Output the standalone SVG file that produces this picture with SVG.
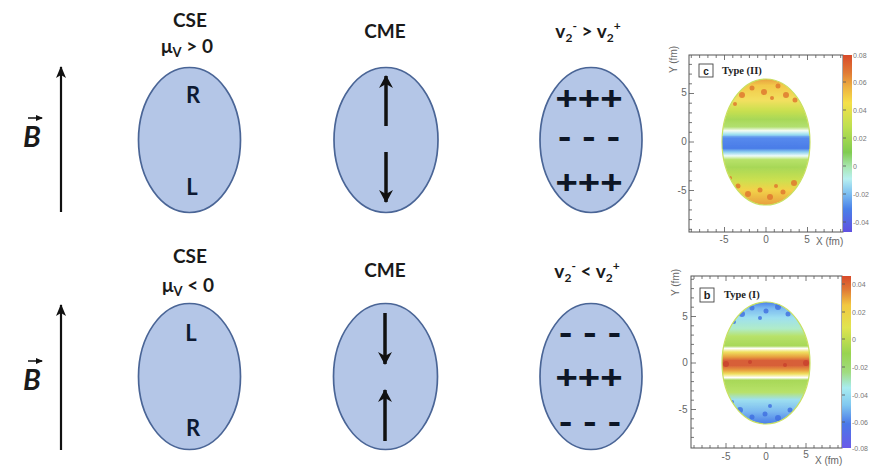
<svg xmlns="http://www.w3.org/2000/svg" width="884" height="476" viewBox="0 0 884 476">
<style>
.lbl{font-family:Lato,"Liberation Sans",sans-serif;font-weight:bold;fill:#1a1a1a;}
.t{font-size:19px;text-anchor:middle;}
.big{font-size:22px;text-anchor:middle;fill:#0d1a33;}
.pm{font-family:"Liberation Sans",sans-serif;font-weight:bold;font-size:34px;text-anchor:middle;fill:#0d1626;}
.bb{font-family:Lato,"Liberation Sans",sans-serif;font-style:italic;font-weight:bold;font-size:29px;text-anchor:middle;fill:#1a1a1a;}
.ell{fill:#b4c6e7;stroke:#4a6596;stroke-width:1.7;}
.shaft{stroke:#111;stroke-width:3.5;fill:none;}
.bfield{stroke:#111;stroke-width:2.2;fill:none;}
.ax{font-family:"Liberation Sans",sans-serif;font-size:10px;fill:#666;}
.cb{font-family:"Liberation Sans",sans-serif;font-size:7px;fill:#777;}
.frame{fill:none;stroke:#555;stroke-width:1;}
.tick{stroke:#555;stroke-width:0.8;fill:none;}
</style>
<defs>
<marker id="head" markerUnits="userSpaceOnUse" markerWidth="16" markerHeight="16" refX="13" refY="8" orient="auto">
<path d="M1,1 L14,8 L1,15 L5,8 Z" fill="#111"/>
</marker>
<marker id="bhead" markerUnits="userSpaceOnUse" markerWidth="14" markerHeight="12" refX="11" refY="6" orient="auto">
<path d="M0,1 L12,6 L0,11 L3,6 Z" fill="#111"/>
</marker>
<marker id="vhead" markerUnits="userSpaceOnUse" markerWidth="8" markerHeight="8" refX="6" refY="4" orient="auto">
<path d="M0,1 L7,4 L0,7 Z" fill="#111"/>
</marker>
<linearGradient id="gTop" gradientUnits="userSpaceOnUse" x1="0" y1="79" x2="0" y2="205">
<stop offset="0" stop-color="#e8a040"/>
<stop offset="0.05" stop-color="#f2c94a"/>
<stop offset="0.17" stop-color="#f2e060"/>
<stop offset="0.25" stop-color="#cbe050"/>
<stop offset="0.32" stop-color="#a8d858"/>
<stop offset="0.38" stop-color="#b2e070"/>
<stop offset="0.41" stop-color="#f4fcf4"/>
<stop offset="0.44" stop-color="#9ee0f0"/>
<stop offset="0.47" stop-color="#5a8ff0"/>
<stop offset="0.55" stop-color="#4a7de8"/>
<stop offset="0.58" stop-color="#8fd0f0"/>
<stop offset="0.61" stop-color="#eefcf8"/>
<stop offset="0.64" stop-color="#b8e26a"/>
<stop offset="0.7" stop-color="#a8d858"/>
<stop offset="0.8" stop-color="#cbe050"/>
<stop offset="0.88" stop-color="#f2d34a"/>
<stop offset="1" stop-color="#e8a040"/>
</linearGradient>
<linearGradient id="gBot" gradientUnits="userSpaceOnUse" x1="0" y1="302" x2="0" y2="424">
<stop offset="0" stop-color="#4a7de8"/>
<stop offset="0.05" stop-color="#7ab8f0"/>
<stop offset="0.13" stop-color="#9ee0f0"/>
<stop offset="0.22" stop-color="#b0ecc8"/>
<stop offset="0.28" stop-color="#b8e26a"/>
<stop offset="0.36" stop-color="#a8d858"/>
<stop offset="0.38" stop-color="#ffffff"/>
<stop offset="0.41" stop-color="#f0e060"/>
<stop offset="0.45" stop-color="#e8a040"/>
<stop offset="0.48" stop-color="#d8603a"/>
<stop offset="0.52" stop-color="#d8603a"/>
<stop offset="0.56" stop-color="#e8a040"/>
<stop offset="0.59" stop-color="#f0e060"/>
<stop offset="0.62" stop-color="#ffffff"/>
<stop offset="0.64" stop-color="#a8d858"/>
<stop offset="0.74" stop-color="#b8e26a"/>
<stop offset="0.8" stop-color="#9ee0f0"/>
<stop offset="0.9" stop-color="#7ab8f0"/>
<stop offset="1" stop-color="#4a7de8"/>
</linearGradient>
<linearGradient id="cbTop" x1="0" y1="0" x2="0" y2="1">
<stop offset="0" stop-color="#d84a2a"/>
<stop offset="0.1" stop-color="#e07a35"/>
<stop offset="0.18" stop-color="#eeb040"/>
<stop offset="0.27" stop-color="#f5e04a"/>
<stop offset="0.4" stop-color="#c0e050"/>
<stop offset="0.55" stop-color="#80cc50"/>
<stop offset="0.63" stop-color="#a8e6b0"/>
<stop offset="0.7" stop-color="#b8f0f0"/>
<stop offset="0.78" stop-color="#7ec0f0"/>
<stop offset="0.87" stop-color="#4a80e8"/>
<stop offset="1" stop-color="#6050e0"/>
</linearGradient>
<linearGradient id="cbBot" x1="0" y1="0" x2="0" y2="1">
<stop offset="0" stop-color="#d84a2a"/>
<stop offset="0.08" stop-color="#e07a35"/>
<stop offset="0.17" stop-color="#f2c840"/>
<stop offset="0.3" stop-color="#e0e450"/>
<stop offset="0.45" stop-color="#98d450"/>
<stop offset="0.56" stop-color="#a0dc80"/>
<stop offset="0.65" stop-color="#a8ecf0"/>
<stop offset="0.75" stop-color="#80c8f0"/>
<stop offset="0.86" stop-color="#4a78e8"/>
<stop offset="1" stop-color="#6a5ae8"/>
</linearGradient>
<clipPath id="clipTop"><ellipse cx="766" cy="142" rx="44" ry="63"/></clipPath>
<clipPath id="clipBot"><ellipse cx="766" cy="363" rx="44" ry="61"/></clipPath>
</defs>
<rect width="884" height="476" fill="#ffffff"/>

<!-- Top row -->
<g id="bfield-top">
<text class="bb" x="32" y="147">B</text>
<line x1="28" y1="118" x2="42" y2="118" stroke="#111" stroke-width="1.5" marker-end="url(#vhead)"/>
</g>
<g id="cse-top">
<text class="lbl t" x="190" y="27">CSE</text>
<text class="lbl t" x="187" y="53">μ<tspan font-size="13" dy="4">V</tspan><tspan dy="-4"> &gt; 0</tspan></text>
<ellipse class="ell" cx="189.5" cy="140" rx="51" ry="72.5"/>
<text class="lbl big" x="193" y="103">R</text>
<text class="lbl big" x="192" y="195">L</text>
</g>
<g id="cme-top">
<text class="lbl t" x="385" y="38">CME</text>
<ellipse class="ell" cx="386" cy="140" rx="52" ry="72.5"/>
</g>
<g id="v2-top">
<text class="lbl t" x="588" y="38">v<tspan font-size="12" dy="4">2</tspan><tspan font-size="12" dy="-12">-</tspan><tspan dy="8"> &gt; v</tspan><tspan font-size="12" dy="4">2</tspan><tspan font-size="12" dy="-12">+</tspan></text>
<ellipse class="ell" cx="591" cy="140" rx="51" ry="72.5"/>
<text class="pm" x="589" y="110" textLength="67" lengthAdjust="spacingAndGlyphs">+++</text>
<text class="pm" x="589" y="148" textLength="62" lengthAdjust="spacingAndGlyphs">- - -</text>
<text class="pm" x="589" y="194" textLength="67" lengthAdjust="spacingAndGlyphs">+++</text>
</g>

<!-- Bottom row -->
<g id="bfield-bottom">
<text class="bb" x="32" y="390">B</text>
<line x1="28" y1="361" x2="42" y2="361" stroke="#111" stroke-width="1.5" marker-end="url(#vhead)"/>
</g>
<g id="cse-bottom">
<text class="lbl t" x="190" y="263">CSE</text>
<text class="lbl t" x="188" y="292">μ<tspan font-size="13" dy="4">V</tspan><tspan dy="-4"> &lt; 0</tspan></text>
<ellipse class="ell" cx="189.5" cy="376.5" rx="51" ry="73"/>
<text class="lbl big" x="191" y="341">L</text>
<text class="lbl big" x="193" y="436">R</text>
</g>
<g id="cme-bottom">
<text class="lbl t" x="385" y="277">CME</text>
<ellipse class="ell" cx="385.5" cy="376.5" rx="52" ry="73"/>
</g>
<g id="v2-bottom">
<text class="lbl t" x="587" y="278">v<tspan font-size="12" dy="4">2</tspan><tspan font-size="12" dy="-12">-</tspan><tspan dy="8"> &lt; v</tspan><tspan font-size="12" dy="4">2</tspan><tspan font-size="12" dy="-12">+</tspan></text>
<ellipse class="ell" cx="591" cy="376.5" rx="51" ry="73"/>
<text class="pm" x="590" y="344" textLength="62" lengthAdjust="spacingAndGlyphs">- - -</text>
<text class="pm" x="589" y="389" textLength="67" lengthAdjust="spacingAndGlyphs">+++</text>
<text class="pm" x="590" y="433" textLength="62" lengthAdjust="spacingAndGlyphs">- - -</text>
</g>

<g id="connectors">
<line class="bfield" x1="61" y1="212" x2="61" y2="67" marker-end="url(#bhead)"/>
<line class="bfield" x1="61" y1="450" x2="61" y2="305" marker-end="url(#bhead)"/>
<line class="shaft" x1="386" y1="126" x2="386" y2="76" marker-end="url(#head)"/>
<line class="shaft" x1="386" y1="152" x2="386" y2="202" marker-end="url(#head)"/>
<line class="shaft" x1="385" y1="313" x2="385" y2="364" marker-end="url(#head)"/>
<line class="shaft" x1="385" y1="441" x2="385" y2="390" marker-end="url(#head)"/>
</g>

<!-- Top heat map (Type II) -->
<g id="plot-top">
<text class="ax" transform="translate(677,73) rotate(-90)" font-size="9">Y (fm)</text>
<g clip-path="url(#clipTop)">
<rect x="720" y="78" width="92" height="130" fill="url(#gTop)"/>
<g fill="#e07a30" opacity="0.85">
<circle cx="742" cy="95" r="3"/><circle cx="752" cy="88" r="2.5"/><circle cx="764" cy="92" r="3"/><circle cx="778" cy="86" r="2.5"/><circle cx="786" cy="95" r="3"/><circle cx="795" cy="100" r="2.5"/><circle cx="772" cy="98" r="2"/><circle cx="735" cy="104" r="2"/>
<circle cx="738" cy="186" r="2.5"/><circle cx="748" cy="194" r="3"/><circle cx="760" cy="190" r="2.5"/><circle cx="770" cy="197" r="3"/><circle cx="783" cy="192" r="2.5"/><circle cx="794" cy="183" r="3"/><circle cx="776" cy="186" r="2"/><circle cx="730" cy="178" r="2"/>
</g>
</g>
<ellipse cx="766" cy="142" rx="44" ry="63" fill="none" stroke="#c8e060" stroke-width="1.2"/>
<rect x="722" y="136" width="88" height="13" fill="#4a7de8" opacity="0.25"/>
<rect class="frame" x="689" y="55" width="154" height="177"/>
<path class="tick" d="M691.3,232v-3M699.6,232v-3M707.9,232v-3M716.2,232v-3M724.5,232v-5M732.8,232v-3M741.1,232v-3M749.4,232v-3M757.7,232v-3M766,232v-5M774.3,232v-3M782.6,232v-3M790.9,232v-3M799.2,232v-3M807.5,232v-5M815.8,232v-3M824.1,232v-3M832.4,232v-3M840.7,232v-3
M691.3,55v3M699.6,55v3M707.9,55v3M716.2,55v3M724.5,55v5M732.8,55v3M741.1,55v3M749.4,55v3M757.7,55v3M766,55v5M774.3,55v3M782.6,55v3M790.9,55v3M799.2,55v3M807.5,55v5M815.8,55v3M824.1,55v3M832.4,55v3M840.7,55v3
M689,229.3h3M689,219.6h3M689,209.9h3M689,200.2h3M689,190.5h5M689,180.8h3M689,171.1h3M689,161.4h3M689,151.7h3M689,142h5M689,132.3h3M689,122.6h3M689,112.9h3M689,103.2h3M689,93.5h5M689,83.8h3M689,74.1h3M689,64.4h3"/>
<rect x="843" y="55" width="9" height="177" fill="url(#cbTop)"/>
<path class="tick" d="M843,82h3M843,110h3M843,138h3M843,166h3M843,194h3M843,222h3"/>
<text class="ax" x="684" y="96" text-anchor="middle">5</text>
<text class="ax" x="684" y="145" text-anchor="middle">0</text>
<text class="ax" x="682" y="194" text-anchor="middle">-5</text>
<text class="ax" x="724" y="243" text-anchor="middle">-5</text>
<text class="ax" x="766" y="243" text-anchor="middle">0</text>
<text class="ax" x="807" y="243" text-anchor="middle">5</text>
<text class="ax" x="816" y="245" font-size="9">X (fm)</text>
<text class="cb" x="853" y="58">0.08</text>
<text class="cb" x="853" y="85">0.06</text>
<text class="cb" x="853" y="113">0.04</text>
<text class="cb" x="853" y="141">0.02</text>
<text class="cb" x="853" y="169">0</text>
<text class="cb" x="853" y="197">-0.02</text>
<text class="cb" x="853" y="225">-0.04</text>
<rect x="699" y="64" width="14" height="13" fill="#fff" stroke="#444" stroke-width="0.9"/>
<text x="706" y="74.5" text-anchor="middle" font-family="Liberation Sans,sans-serif" font-weight="bold" font-size="10" fill="#222">c</text>
<text x="722" y="74" font-family="Liberation Serif,serif" font-weight="bold" font-size="10.5" fill="#222">Type (II)</text>
</g>

<!-- Bottom heat map (Type I) -->
<g id="plot-bottom">
<text class="ax" transform="translate(679,296) rotate(-90)" font-size="9">Y (fm)</text>
<g clip-path="url(#clipBot)">
<rect x="720" y="300" width="92" height="126" fill="url(#gBot)"/>
<g fill="#3f6fe0" opacity="0.8">
<circle cx="742" cy="314" r="3"/><circle cx="752" cy="308" r="2.5"/><circle cx="766" cy="311" r="2.5"/><circle cx="778" cy="307" r="3"/><circle cx="788" cy="314" r="2.5"/><circle cx="760" cy="318" r="2"/><circle cx="734" cy="322" r="2"/>
<circle cx="740" cy="410" r="3"/><circle cx="752" cy="417" r="2.5"/><circle cx="765" cy="414" r="2.5"/><circle cx="778" cy="418" r="3"/><circle cx="790" cy="410" r="2.5"/><circle cx="770" cy="406" r="2"/><circle cx="732" cy="402" r="2"/>
</g>
<g fill="#c8402e" opacity="0.8">
<circle cx="726" cy="364" r="3"/><circle cx="806" cy="363" r="3"/><circle cx="750" cy="362" r="2"/><circle cx="785" cy="365" r="2"/>
</g>
</g>
<ellipse cx="766" cy="363" rx="44" ry="61" fill="none" stroke="#c8e060" stroke-width="1.2"/>
<rect class="frame" x="691" y="276" width="151" height="172"/>
<path class="tick" d="M694,448v-3M702,448v-3M710,448v-3M718,448v-3M726,448v-5M734,448v-3M742,448v-3M750,448v-3M758,448v-3M766,448v-5M774,448v-3M782,448v-3M790,448v-3M798,448v-3M806,448v-5M814,448v-3M822,448v-3M830,448v-3M838,448v-3
M694,276v3M702,276v3M710,276v3M718,276v3M726,276v5M734,276v3M742,276v3M750,276v3M758,276v3M766,276v5M774,276v3M782,276v3M790,276v3M798,276v3M806,276v5M814,276v3M822,276v3M830,276v3M838,276v3
M691,437.4h3M691,428.1h3M691,418.8h3M691,409.5h5M691,400.2h3M691,390.9h3M691,381.6h3M691,372.3h3M691,363h5M691,353.7h3M691,344.4h3M691,335.1h3M691,325.8h3M691,316.5h5M691,307.2h3M691,297.9h3M691,288.6h3M691,279.3h3"/>
<rect x="842" y="276" width="9" height="172" fill="url(#cbBot)"/>
<path class="tick" d="M842,284h3M842,312h3M842,339h3M842,367h3M842,395h3M842,422h3"/>
<text class="ax" x="685" y="320" text-anchor="middle">5</text>
<text class="ax" x="685" y="366" text-anchor="middle">0</text>
<text class="ax" x="683" y="413" text-anchor="middle">-5</text>
<text class="ax" x="726" y="460" text-anchor="middle">-5</text>
<text class="ax" x="766" y="460" text-anchor="middle">0</text>
<text class="ax" x="806" y="458" text-anchor="middle">5</text>
<text class="ax" x="815" y="464" font-size="9">X (fm)</text>
<text class="cb" x="852" y="287">0.04</text>
<text class="cb" x="852" y="315">0.02</text>
<text class="cb" x="852" y="342">0</text>
<text class="cb" x="852" y="370">-0.02</text>
<text class="cb" x="852" y="398">-0.04</text>
<text class="cb" x="852" y="425">-0.06</text>
<text class="cb" x="852" y="451">-0.08</text>
<rect x="700" y="288" width="14" height="14" fill="#fff" stroke="#444" stroke-width="0.9"/>
<text x="707" y="299" text-anchor="middle" font-family="Liberation Sans,sans-serif" font-weight="bold" font-size="11" fill="#222">b</text>
<text x="724" y="298" font-family="Liberation Serif,serif" font-weight="bold" font-size="10.5" fill="#222">Type (I)</text>
</g>
</svg>
